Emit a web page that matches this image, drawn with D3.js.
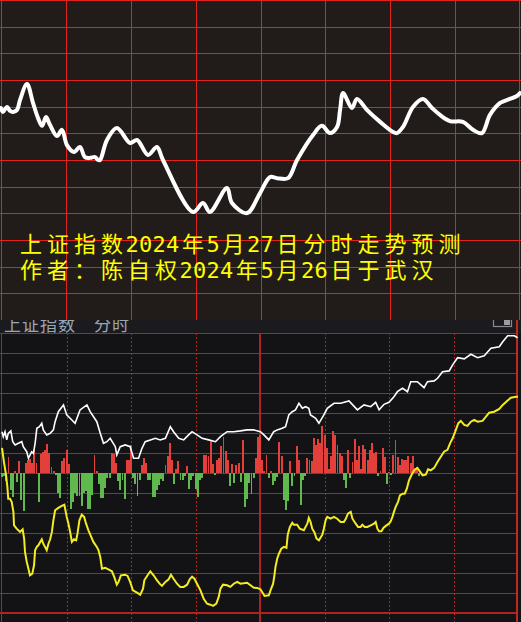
<!DOCTYPE html>
<html>
<head>
<meta charset="utf-8">
<script src="https://cdn.jsdelivr.net/npm/d3@7"></script>
<style>
  body { margin: 0; background: #000; }
  svg { display: block; }
</style>
</head>
<body>
<div></div>
<script>
var outerWidth  = 521;
var outerHeight = 622;

// forecast line of the top panel: [minute, pct change]
var forecast = [
  [0,0.195],[0.9,0.18],[2.8,0.199],[4.2,0.184],[5.5,0.18],[7.4,0.188],[8.8,0.225],
  [12,0.285],[14.8,0.214],[17.1,0.158],[19,0.128],[20.8,0.161],[22.7,0.131],[25.9,0.09],
  [28.2,0.113],[30.5,0.056],[33.8,0.03],[36.5,0.049],[38.8,0.011],[41.2,0.008],[43.5,0.011],
  [44.9,0],[45.8,0],[49,0.075],[53.6,0.12],[59.7,0.064],[62.9,0.075],[68,0.019],[72.1,0.049],
  [74.9,0],[88.8,-0.195],[93.4,-0.161],[96.6,-0.195],[104.5,-0.105],[106.8,-0.161],
  [113.8,-0.199],[119.8,-0.124],[124.4,-0.064],[127.6,-0.068],[132.7,-0.068],[136.9,0],
  [144.3,0.094],[148.4,0.128],[152.1,0.101],[155.4,0.124],[156.8,0.188],[158.2,0.251],
  [162.3,0.195],[164.6,0.229],[169.2,0.188],[175.3,0.143],[181.3,0.105],[183.1,0.101],
  [185.9,0.124],[190.5,0.199],[195.1,0.229],[199.3,0.195],[203,0.169],[207.6,0.146],
  [213.6,0.143],[218.3,0.113],[222.4,0.101],[226.1,0.169],[230.8,0.214],[234,0.225],
  [238.6,0.24],[240,0.251]
];

// actual index (white) in the bottom panel: [minute, pct change]
var indexLine = [
  [0,0.208],[0.6,0.183],[1.4,0.208],[2.2,0.167],[2.9,0.2],[4.1,0.212],[5,0.158],[6.1,0.142],
  [7.6,0.15],[9.2,0.158],[9.9,0.133],[11.5,0.108],[12.3,0.075],[13.8,0.108],[14.6,0.1],
  [15.4,0.15],[16.2,0.225],[17.4,0.233],[18.5,0.25],[19.2,0.217],[20.8,0.192],[22.4,0.2],
  [23.9,0.217],[24.7,0.258],[26.2,0.308],[28.6,0.342],[30.1,0.292],[31.7,0.275],[34,0.25],
  [36.3,0.317],[39.5,0.342],[41,0.308],[44.1,0.258],[45.7,0.2],[47.2,0.15],[48.8,0.158],
  [50.3,0.175],[52.7,0.133],[53.4,0.092],[55,0.133],[57.3,0.142],[59.6,0.133],[61.2,0.075],
  [63.5,0.075],[65.1,0.125],[66.6,0.158],[69,0.167],[71.3,0.175],[73.6,0.167],[76,0.175],
  [78.3,0.233],[79.8,0.208],[82.2,0.175],[84.5,0.167],[86.8,0.192],[88.4,0.208],[90.7,0.192],
  [93.1,0.175],[96.1,0.167],[99.3,0.158],[101.6,0.183],[104.7,0.208],[107.8,0.208],
  [110.9,0.212],[114,0.217],[117.1,0.217],[120.2,0.208],[121.8,0.192],[124.1,0.167],
  [126.4,0.208],[128,0.217],[130.3,0.225],[131.9,0.233],[133.4,0.292],[135,0.308],
  [136.5,0.317],[138.1,0.35],[139.7,0.325],[141.2,0.333],[142.7,0.325],[143.5,0.292],
  [145.9,0.275],[147.4,0.25],[149.7,0.292],[151.3,0.325],[154.4,0.35],[157.5,0.35],
  [161.4,0.362],[165.3,0.317],[168.4,0.342],[171.5,0.333],[173.8,0.355],[175.4,0.317],
  [177.7,0.345],[180,0.355],[182.3,0.383],[183.9,0.408],[186.3,0.425],[188.6,0.408],
  [190.1,0.458],[193.2,0.458],[196.3,0.428],[197.9,0.458],[201,0.462],[202.6,0.475],
  [204.9,0.508],[208,0.512],[209.6,0.542],[211.9,0.578],[215,0.572],[218.1,0.595],
  [221.2,0.578],[224.3,0.588],[227.4,0.625],[231.3,0.633],[232.9,0.658],[235.2,0.688],
  [238.3,0.688],[239.8,0.678]
];

// unweighted index (yellow): [minute, pct change]
var avgLine = [
  [0,0.127],[0.9,0.057],[1.4,0.023],[1.9,-0.01],[2.5,-0.068],[2.9,-0.127],[3.7,-0.127],
  [4.5,-0.143],[5.3,-0.193],[5.6,-0.26],[6.8,-0.277],[7.6,-0.285],[8.4,-0.293],[9.6,-0.28],
  [10.3,-0.327],[10.7,-0.393],[11.5,-0.443],[12.3,-0.477],[13,-0.51],[14.1,-0.502],
  [14.9,-0.46],[15.4,-0.385],[16.2,-0.368],[16.9,-0.36],[18.5,-0.33],[19.2,-0.352],
  [20,-0.368],[20.8,-0.385],[21.6,-0.352],[22.4,-0.33],[23.2,-0.293],[23.9,-0.235],
  [24.7,-0.185],[26.2,-0.173],[27.8,-0.163],[29,-0.157],[30.1,-0.218],[30.9,-0.252],
  [31.7,-0.293],[32.5,-0.343],[33.5,-0.33],[34.5,-0.335],[35.1,-0.302],[36,-0.235],
  [37.1,-0.207],[38.2,-0.218],[39.1,-0.252],[40.2,-0.285],[41.3,-0.313],[42.5,-0.343],
  [44.1,-0.368],[44.9,-0.385],[45.7,-0.418],[46.5,-0.477],[48,-0.473],[49.5,-0.48],
  [51.1,-0.49],[52.2,-0.518],[53.4,-0.557],[54.2,-0.543],[55.3,-0.51],[57.3,-0.507],
  [58.4,-0.513],[59.6,-0.543],[60.9,-0.585],[62.8,-0.597],[64.3,-0.607],[65.6,-0.577],
  [66.2,-0.535],[67.7,-0.51],[69,-0.49],[70.5,-0.51],[72.1,-0.535],[73.3,-0.552],
  [74.4,-0.563],[76,-0.543],[77.5,-0.53],[78.6,-0.507],[79.8,-0.527],[81.4,-0.552],
  [82.9,-0.568],[84.5,-0.568],[86.1,-0.557],[87.3,-0.53],[88.4,-0.517],[89.5,-0.527],
  [90.7,-0.552],[92.3,-0.585],[93.8,-0.627],[95.4,-0.652],[96.9,-0.657],[98.2,-0.663],
  [99.7,-0.652],[100.8,-0.618],[101.6,-0.577],[102.8,-0.557],[104.7,-0.56],[106.2,-0.568],
  [107.8,-0.552],[109.4,-0.543],[110.9,-0.552],[114,-0.547],[115.6,-0.56],[117.1,-0.572],
  [118.7,-0.573],[120.2,-0.58],[121.5,-0.602],[122.1,-0.613],[124.1,-0.61],[124.9,-0.585],
  [126.1,-0.552],[126.7,-0.51],[127.2,-0.468],[128,-0.427],[128.8,-0.402],[129.9,-0.377],
  [131.1,-0.368],[132.3,-0.373],[132.9,-0.307],[133.9,-0.268],[135,-0.247],[135.7,-0.257],
  [137.3,-0.257],[138.5,-0.277],[140.4,-0.285],[141.2,-0.268],[142,-0.252],[142.7,-0.223],
  [143.5,-0.243],[144.3,-0.277],[145.4,-0.297],[146.3,-0.327],[147.4,-0.335],[149,-0.307],
  [149.7,-0.277],[150.5,-0.235],[151.3,-0.218],[152.8,-0.227],[154.4,-0.218],[155.9,-0.227],
  [157.5,-0.243],[159,-0.243],[159.8,-0.23],[160.9,-0.202],[162.2,-0.193],[163,-0.227],
  [164.5,-0.252],[165.6,-0.268],[166.8,-0.268],[167.6,-0.257],[168.7,-0.268],[169.9,-0.268],
  [171.5,-0.26],[173,-0.252],[173.8,-0.243],[174.6,-0.277],[175.4,-0.29],[176.5,-0.29],
  [177.4,-0.273],[178.5,-0.263],[180,-0.252],[180.8,-0.24],[181.6,-0.218],[182.3,-0.193],
  [183.1,-0.168],[184.2,-0.143],[185.1,-0.11],[186.3,-0.102],[187.3,-0.102],[188.3,-0.077],
  [189.3,-0.035],[190.4,-0.01],[191.7,0.015],[193.2,0.027],[194.5,0.007],[195.6,-0.01],
  [197.1,-0.007],[198.2,0.02],[199.4,0.015],[201,0.027],[202.6,0.058],[204.1,0.083],
  [205.6,0.108],[207.2,0.117],[208.4,0.15],[209.6,0.175],[210.8,0.208],[212.2,0.25],
  [213.4,0.262],[215,0.242],[216.5,0.237],[218.1,0.258],[219.6,0.267],[221.2,0.258],
  [223.5,0.262],[225.1,0.283],[226.6,0.303],[228.9,0.308],[231.3,0.322],[232.9,0.342],
  [234.9,0.362],[236.7,0.378],[239,0.383],[240,0.383]
];

// red / green strength bars, one per minute (0..240)
var barValues = [
  -4,-3,-8,16,-17,-24,0,2,-9,12,
  -27,0,-38,10,13,14,10,0,23,10,
  -29,19,0,21,23,29,20,6,2,-2,
  0,-20,-25,12,15,0,23,9,0,-36,
  -29,0,-20,0,-23,-23,0,-33,-20,-18,
  0,0,-36,-36,-22,18,2,0,-11,0,
  -25,-25,-15,-5,-5,0,20,19,10,0,
  -8,-17,0,-7,-26,0,13,13,28,-5,
  0,-11,-23,0,-7,8,0,15,10,-7,
  -7,0,-24,-24,-17,-12,0,-6,-8,0,
  8,17,30,13,0,0,-11,0,4,12,
  0,-7,-7,-3,7,0,-16,-7,0,-3,
  -16,-24,-7,-5,18,18,17,33,9,-2,
  13,15,27,36,0,22,13,-13,9,-10,
  8,10,-9,33,-34,-26,-10,-21,-5,15,
  36,38,13,2,18,0,-5,2,-12,-8,
  -4,31,17,-27,-37,-28,0,0,12,-13,
  -3,0,27,0,13,-32,-7,-3,15,13,
  12,35,28,34,30,47,38,25,4,17,
  42,38,28,20,17,-7,-15,23,0,-5,
  11,0,34,13,27,0,4,28,24,13,
  23,0,30,20,21,-3,2,0,25,16,
  -11,1,-2,0,18,0,33,16,8,0,
  14,13,13,0,17,10,0,17,5,6,
  -3
];

var titleLines = ["上证指数2024年5月27日分时走势预测", "作者：陈自权2024年5月26日于武汉"];
var headerLabels = ["上证指数", "分时"];
var halfHours = d3.range(0, 241, 30);

// snap a coordinate to the pixel grid so 1px lines stay sharp
function crisp(v){ return Math.round(v) + 0.5; }

var svg = d3.select("div").append("svg")
  .attr("width",  outerWidth)
  .attr("height", outerHeight);

// ---------- bottom panel (real intraday chart) ----------
var bot = { top: 333.3, bottom: 613.3, left: 2, right: 518 };
var gridRed = "#b02320";

svg.append("rect")
  .attr("x", 0).attr("y", 320).attr("width", outerWidth).attr("height", outerHeight - 320)
  .attr("fill", "#131316");

// header strip
svg.append("rect")
  .attr("x", 0).attr("y", 320).attr("width", outerWidth).attr("height", bot.top - 320)
  .attr("fill", "#1b1b1f");

svg.selectAll(".hdr").data(headerLabels).enter().append("text")
  .attr("class", "hdr")
  .attr("x", function (d, i){ return i === 0 ? 4 : 94; })
  .attr("y", 331)
  .attr("font-family", "Noto Sans CJK SC")
  .attr("font-size", 17)
  .attr("letter-spacing", 1)
  .attr("fill", "#9aa6b4")
  .text(function (d){ return d; });

// little window icon at the top right
svg.append("rect").attr("x", 493.5).attr("y", 318).attr("width", 18).attr("height", 8.5)
  .attr("fill", "none").attr("stroke", "#8a8a8e").attr("stroke-width", 1.2);
svg.append("rect").attr("x", 504).attr("y", 319).attr("width", 6).attr("height", 6)
  .attr("fill", "#9c9ca0");

var xB = d3.scaleLinear().domain([0, 240]).range([bot.left, bot.right]);
var yB = d3.scaleLinear().domain([-0.7, 0.7]).range([bot.bottom, bot.top]);
var barY = d3.scaleLinear().domain([-140, 140]).range([bot.bottom, bot.top]);

var gridB = svg.append("g");

gridB.selectAll(".hb").data(d3.range(-6, 8).map(function (k){ return k / 10; }))
  .enter().append("line")
  .attr("class", "hb")
  .attr("x1", 0).attr("x2", bot.right)
  .attr("y1", function (d){ return crisp(yB(d)); })
  .attr("y2", function (d){ return crisp(yB(d)); })
  .attr("stroke", gridRed).attr("stroke-width", 1);

gridB.append("line")
  .attr("x1", 0).attr("x2", bot.right)
  .attr("y1", Math.round(yB(-0.7))).attr("y2", Math.round(yB(-0.7)))
  .attr("stroke", gridRed).attr("stroke-width", 2);

gridB.selectAll(".vb").data(halfHours.slice(1, -1)).enter().append("line")
  .attr("class", "vb")
  .attr("x1", function (d){ return d === 120 ? Math.round(xB(d)) : crisp(xB(d)); })
  .attr("x2", function (d){ return d === 120 ? Math.round(xB(d)) : crisp(xB(d)); })
  .attr("y1", Math.round(bot.top)).attr("y2", outerHeight)
  .attr("stroke", gridRed)
  .attr("stroke-width", function (d){ return d === 120 ? 2 : 1; })
  .attr("stroke-dasharray", function (d){ return d === 120 ? null : "2,2"; });

// borders
gridB.append("line").attr("x1", 1.5).attr("x2", 1.5).attr("y1", Math.round(bot.top)).attr("y2", outerHeight)
  .attr("stroke", gridRed).attr("stroke-width", 1);
gridB.append("line").attr("x1", 517).attr("x2", 517).attr("y1", 320).attr("y2", outerHeight)
  .attr("stroke", "#c02622").attr("stroke-width", 2);

// bars
svg.append("g").attr("shape-rendering", "crispEdges")
  .selectAll("rect").data(barValues).enter().append("rect")
  .filter(function (d){ return d !== 0; })
  .attr("x", function (d, i){ return xB(i) - 0.9; })
  .attr("width", 1.9)
  .attr("y", function (d){ return Math.min(barY(d), barY(0)); })
  .attr("height", function (d){ return Math.abs(barY(d) - barY(0)); })
  .attr("fill", function (d){ return d > 0 ? "#e4403b" : "#5fb94c"; });

var lineB = d3.line()
  .x(function (d){ return xB(d[0]); })
  .y(function (d){ return yB(d[1]); });

svg.append("path").datum(indexLine)
  .attr("d", lineB)
  .attr("fill", "none").attr("stroke", "#ffffff").attr("stroke-width", 1.6);

svg.append("path").datum(avgLine)
  .attr("d", lineB)
  .attr("fill", "none").attr("stroke", "#f3ec22").attr("stroke-width", 2);

// ---------- top panel (forecast) ----------
var topH = 320;
var xT = d3.scaleLinear().domain([0, 240]).range([1, 520]);
var yT = d3.scaleLinear().domain([-0.6, 0.6]).range([topH, 0]);
var topRed = "#e3221e";

var gt = svg.append("g");

gt.append("rect")
  .attr("x", 0).attr("y", 0).attr("width", outerWidth).attr("height", topH)
  .attr("fill", "#211c1a");

gt.selectAll(".ht").data(d3.range(-5, 7).map(function (k){ return k / 10; }))
  .enter().append("line")
  .attr("class", "ht")
  .attr("x1", 0).attr("x2", outerWidth)
  .attr("y1", function (d){ return crisp(yT(d)); })
  .attr("y2", function (d){ return crisp(yT(d)); })
  .attr("stroke", topRed).attr("stroke-width", 1);

gt.selectAll(".vt").data(halfHours).enter().append("line")
  .attr("class", "vt")
  .attr("x1", function (d){ return Math.min(crisp(xT(d)), 519.5); })
  .attr("x2", function (d){ return Math.min(crisp(xT(d)), 519.5); })
  .attr("y1", 0).attr("y2", topH)
  .attr("stroke", topRed).attr("stroke-width", 1);

gt.append("path").datum(forecast)
  .attr("d", d3.line()
    .x(function (d){ return xT(d[0]); })
    .y(function (d){ return yT(d[1]); })
    .curve(d3.curveCatmullRom.alpha(0.5)))
  .attr("fill", "none")
  .attr("stroke", "#ffffff")
  .attr("stroke-width", 4)
  .attr("stroke-linejoin", "round")
  .attr("stroke-linecap", "round");

// yellow caption, laid out on a fixed cell grid: full-width chars 27px, digits 13.5px
var fullCell = 27, halfCell = 13.5, cjkSize = 22;

function cellX(str, start){
  var cursor = start, xs = [];
  Array.from(str).forEach(function (ch){
    var half = /[0-9A-Za-z]/.test(ch);
    xs.push(half ? cursor : cursor + (fullCell - cjkSize) / 2);
    cursor += half ? halfCell : fullCell;
  });
  return xs.join(" ");
}

gt.selectAll(".title").data(titleLines).enter().append("text")
  .attr("class", "title")
  .attr("x", function (d){ return cellX(d, 17.5); })
  .attr("y", function (d, i){ return 251.5 + i * 26; })
  .attr("font-family", "DejaVu Sans Mono, Noto Sans CJK SC")
  .attr("font-size", cjkSize)
  .attr("fill", "#ffff00")
  .text(function (d){ return d; });
</script>
</body>
</html>
